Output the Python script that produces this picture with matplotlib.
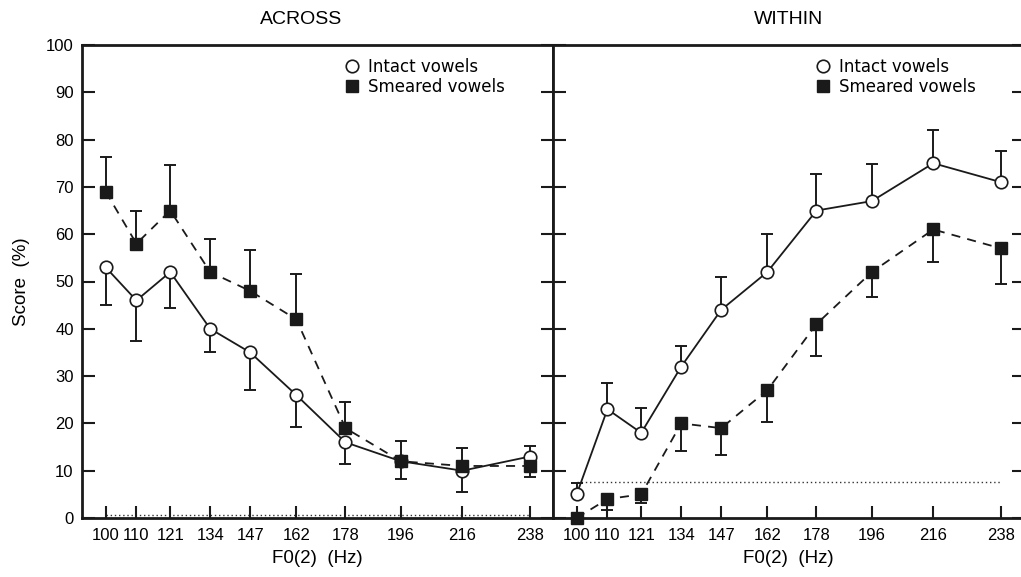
import matplotlib
matplotlib.use('Agg')
import matplotlib.pyplot as plt
from matplotlib.lines import Line2D

plt.rcParams['font.family'] = 'Liberation Sans'

# F0 of the second voice (Hz)
f0 = [100, 110, 121, 134, 147, 162, 178, 196, 216, 238]
f0_labels = ['100', '110', '121', '134', '147', '162', '178', '196', '216', '238']
score_ticks = [0, 10, 20, 30, 40, 50, 60, 70, 80, 90, 100]

# ACROSS panel
across_intact = [53, 46, 52, 40, 35, 26, 16, 12, 10, 13]
across_intact_lo = [7.9, 8.6, 7.7, 5.0, 7.9, 6.7, 4.6, 3.7, 4.6, 0]
across_intact_hi = [0, 0, 0, 0, 0, 0, 0, 0, 0, 2.3]
across_smeared = [69, 58, 65, 52, 48, 42, 19, 12, 11, 11]
across_smeared_lo = [0, 0, 0, 0, 0, 0, 0, 0, 0, 2.3]
across_smeared_hi = [7.3, 7.0, 9.7, 7.0, 8.7, 9.5, 5.5, 4.2, 3.8, 0]
across_chance = 0.7

# WITHIN panel
within_intact = [5, 23, 18, 32, 44, 52, 65, 67, 75, 71]
within_intact_lo = [0, 0, 0, 0, 0, 0, 0, 0, 0, 0]
within_intact_hi = [2.3, 5.5, 5.2, 4.4, 6.9, 8.1, 7.7, 7.9, 7.0, 6.5]
within_smeared = [0, 4, 5, 20, 19, 27, 41, 52, 61, 57]
within_smeared_lo = [0, 2.4, 1.9, 5.8, 5.7, 6.7, 6.8, 5.2, 6.9, 7.6]
within_smeared_hi = [0, 0, 0, 0, 0, 0, 0, 0, 0, 0]
within_chance = 7.6

W, H = 1021, 577
fig = plt.figure(figsize=(W / 100, H / 100), dpi=100)
ax1 = fig.add_axes([82 / W, 1 - 518 / H, 471 / W, 473 / H])
ax2 = fig.add_axes([553 / W, 1 - 518 / H, 471 / W, 473 / H])

ink = '#1a1a1a'


def draw(ax, intact, i_lo, i_hi, smeared, s_lo, s_hi, chance, title, title_x):
    ax.plot([f0[0], f0[-1]], [chance, chance], ls=(0, (1, 2)), lw=1.0, color='#333333', zorder=1)
    ax.errorbar(f0, intact, yerr=[i_lo, i_hi], fmt='none', ecolor=ink,
                elinewidth=1.4, capsize=4.2, capthick=1.4, zorder=2)
    ax.errorbar(f0, smeared, yerr=[s_lo, s_hi], fmt='none', ecolor=ink,
                elinewidth=1.4, capsize=4.2, capthick=1.4, zorder=2)
    ax.plot(f0, intact, '-', color=ink, lw=1.3, marker='o', ms=9, mfc='white',
            mec=ink, mew=1.2, zorder=3, clip_on=False)
    ax.plot(f0, smeared, ls=(0, (5, 4)), color=ink, lw=1.3, marker='s', ms=8.5,
            mfc=ink, mec=ink, zorder=4, clip_on=False)

    ax.set_xlim(92.3, 245.5)
    ax.set_ylim(0, 100)
    ax.set_xticks(f0)
    ax.set_xticklabels(f0_labels)
    ax.set_yticks(score_ticks)
    ax.tick_params(direction='in', length=9, width=1.5, labelsize=12, color=ink)
    ax.tick_params(axis='x', pad=7)
    ax.tick_params(axis='y', left=True, right=True, pad=6)
    for s in ax.spines.values():
        s.set_linewidth(2)
        s.set_color(ink)

    ax.set_title(title, fontsize=14, pad=15, x=title_x)
    ax.set_xlabel('F0(2)  (Hz)', fontsize=13.5)
    ax.xaxis.set_label_coords(0.5, -0.068)

    handles = [Line2D([], [], ls='none', marker='o', ms=9, mfc='white', mec=ink, mew=1.2),
               Line2D([], [], ls='none', marker='s', ms=8.5, mfc=ink, mec=ink)]
    ax.legend(handles, ['Intact vowels', 'Smeared vowels'], loc='upper left',
              bbox_to_anchor=(0.555, 0.972), frameon=False, borderpad=0, borderaxespad=0,
              handlelength=1.0, handletextpad=0.45, labelspacing=0.1,
              prop={'family': 'DejaVu Sans', 'size': 12})


draw(ax1, across_intact, across_intact_lo, across_intact_hi,
     across_smeared, across_smeared_lo, across_smeared_hi, across_chance, 'ACROSS', 0.465)
draw(ax2, within_intact, within_intact_lo, within_intact_hi,
     within_smeared, within_smeared_lo, within_smeared_hi, within_chance, 'WITHIN', 0.5)

ax1.set_ylabel('Score  (%)', fontsize=13.5)
ax1.yaxis.set_label_coords(-0.11, 0.5)
ax2.tick_params(axis='y', labelleft=False)

fig.savefig('out.png', dpi=100)
